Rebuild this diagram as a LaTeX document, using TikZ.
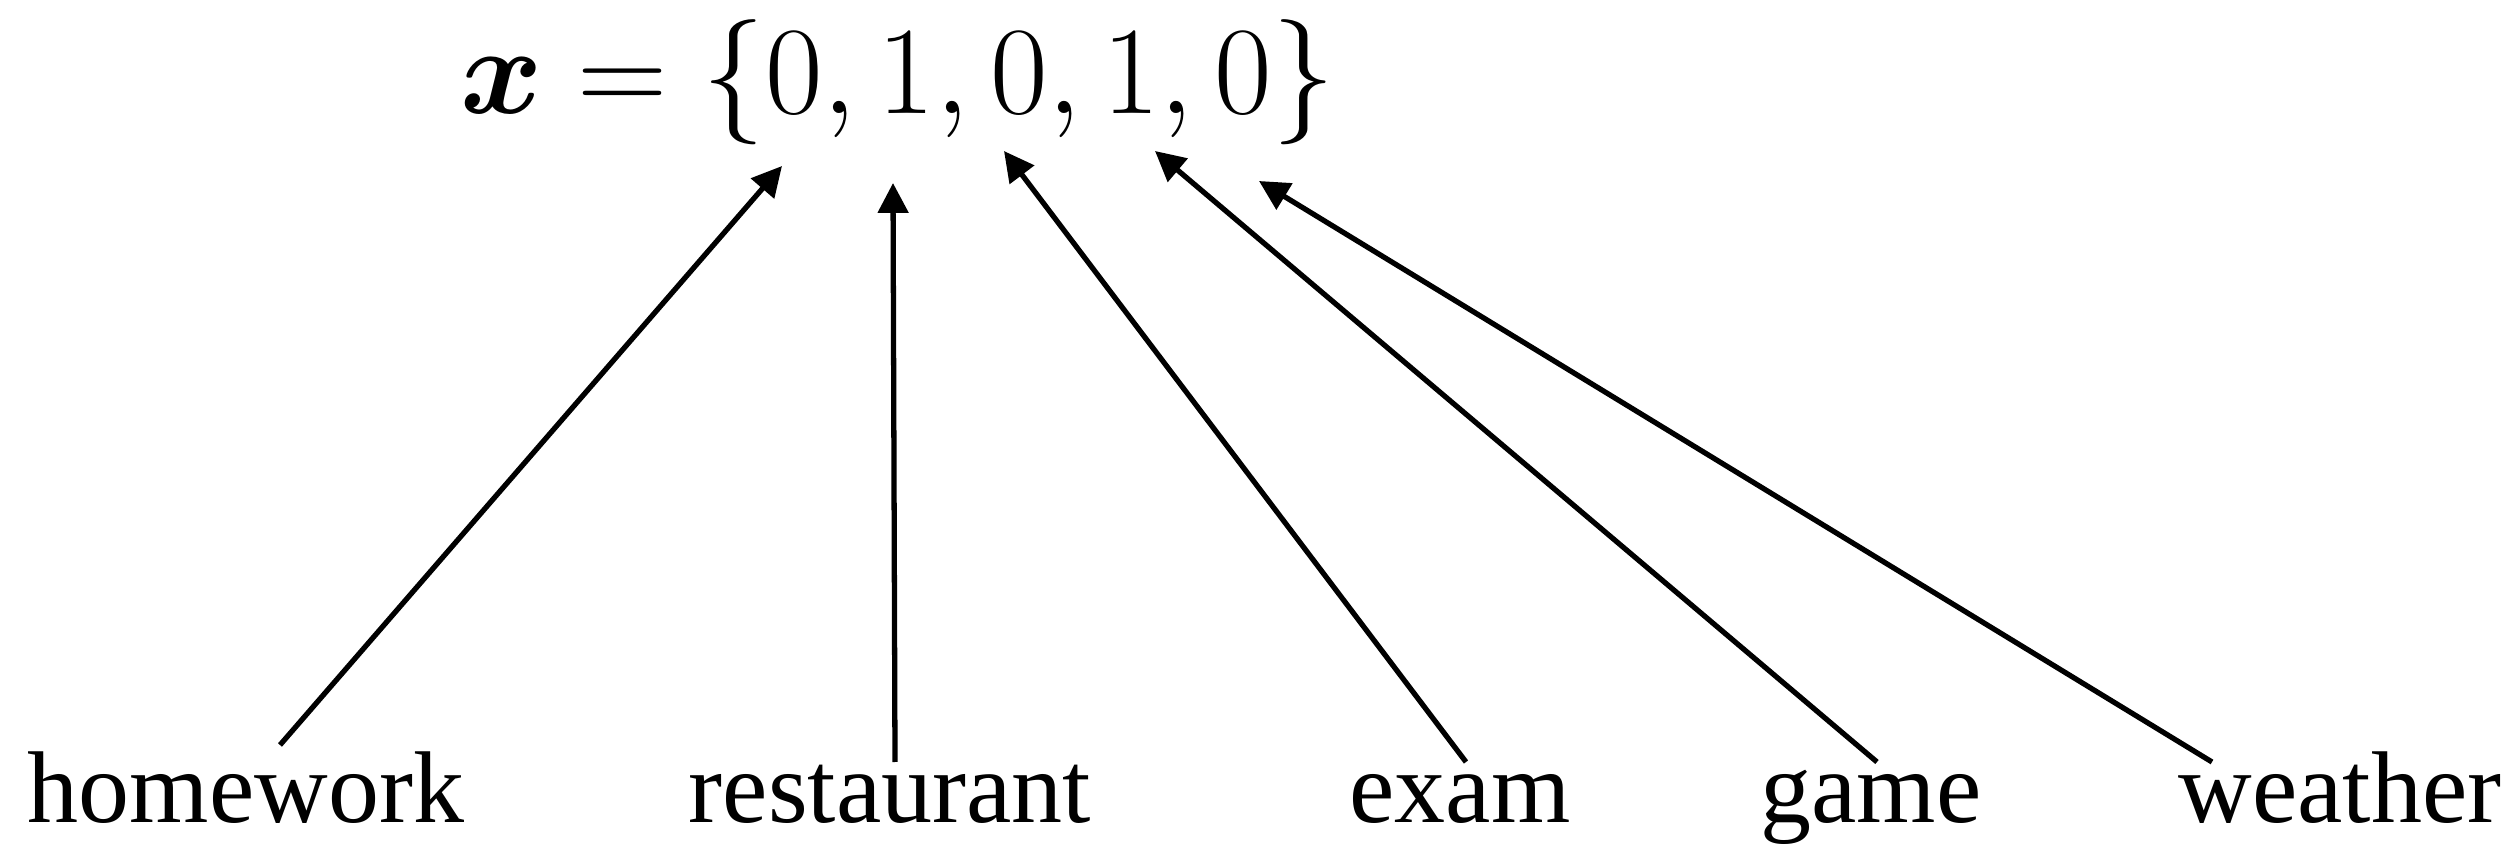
\RequirePackage{fix-cm}
\documentclass[tikz,border=0pt]{standalone}
\usepackage{amsmath,bm}
\usepackage{fontspec}
\setmainfont{Liberation Serif}
\usetikzlibrary{arrows.meta,calc}

\tikzset{
  word/.style={inner sep=0pt, anchor=base, font=\fontsize{29}{34}\selectfont},
  pointer/.style={line width=1.5pt, -{Triangle[length=8.5pt,width=8.5pt]}},
}

\begin{document}
\begin{tikzpicture}[x=0.01cm,y=-0.01cm]
  \useasboundingbox (0,0) rectangle (2520,855);

  % feature vector
  \node[inner sep=0pt, anchor=base west, font=\fontsize{35.6}{42}\selectfont] (vec) at (460,114)
    {$\bm{x} = \{0, 1, 0, 1, 0\}$};

  % where each word points to
  \coordinate (t1) at (782,166);
  \coordinate (t2) at (893,183);
  \coordinate (t3) at (1004,151);
  \coordinate (t4) at (1155,151);
  \coordinate (t5) at (1259,181);

  % vocabulary words
  \node[word] (hw) at (246,823) {homework};
  \node[word] (rs) at (890,823) {restaurant};
  \node[word] (ex) at (1460,823) {exam};
  \node[word] (gm) at (1871,823) {game};
  \node[word] (wt) at (2340,823) {weather};

  % connectors
  \draw[pointer] ($(hw.base)+(34,-78)$) -- (t1);
  \draw[pointer] ($(rs.base)+(5,-61)$) -- (t2);
  \draw[pointer] ($(ex.base)+(6,-61)$) -- (t3);
  \draw[pointer] ($(gm.base)+(6,-61)$) -- (t4);
  \draw[pointer] ($(wt.base)+(-128,-61)$) -- (t5);
\end{tikzpicture}
\end{document}
